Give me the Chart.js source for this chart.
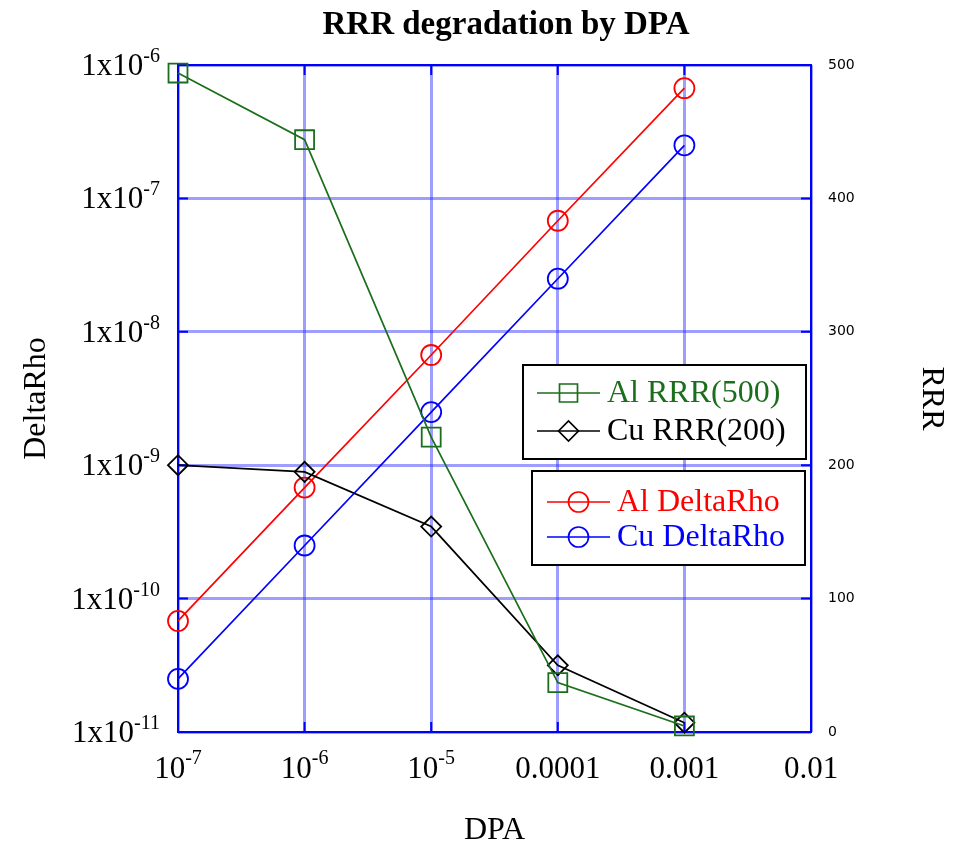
<!DOCTYPE html>
<html>
<head>
<meta charset="utf-8">
<script src="https://cdn.jsdelivr.net/npm/chart.js@4/dist/chart.umd.min.js"></script>
<style>
    html, body { margin: 0; padding: 0; background: #fff; }
</style>
</head>
<body>
<canvas id="graficoRRR" width="959" height="845"></canvas>
<script>
// datos
const dpa = [1e-7, 1e-6, 1e-5, 1e-4, 1e-3];
const alRRR = [494, 444, 221, 37, 4.5];
const cuRRR = [200, 195, 154, 50, 7];
const alDeltaRho = [6.8e-11, 6.8e-10, 6.7e-9, 6.8e-8, 6.7e-7];
const cuDeltaRho = [2.5e-11, 2.5e-10, 2.5e-9, 2.5e-8, 2.5e-7];

const xTicks = [1e-7, 1e-6, 1e-5, 1e-4, 1e-3, 1e-2];
const xTickLabels = [['10', '-7'], ['10', '-6'], ['10', '-5'], ['0.0001', ''], ['0.001', ''], ['0.01', '']];
const yTicks = [1e-11, 1e-10, 1e-9, 1e-8, 1e-7, 1e-6];
const yTickLabels = [['1x10', '-11'], ['1x10', '-10'], ['1x10', '-9'], ['1x10', '-8'], ['1x10', '-7'], ['1x10', '-6']];
const rrrTicks = [0, 100, 200, 300, 400, 500];

const TITULO = 'RRR degradation by DPA';
const VERDE = '#1b6e1b';
const SERIF = "'Liberation Serif', 'Times New Roman', serif";

function serie(xs, ys) {
    return xs.map((x, i) => ({x: x, y: ys[i]}));
}

function estilo(color, forma, radio) {
    return {
        borderColor: color,
        backgroundColor: 'rgba(0,0,0,0)',
        pointBorderColor: color,
        pointBackgroundColor: 'rgba(0,0,0,0)',
        pointStyle: forma,
        pointRadius: radio,
        pointHoverRadius: radio,
        pointBorderWidth: 1.8,
        borderWidth: 1.7,
        fill: false,
        tension: 0,
        clip: false
    };
}

// marcador para la leyenda
function marcador(ctx, forma, x, y) {
    ctx.beginPath();
    if (forma === 'circle') {
        ctx.arc(x, y, 10, 0, Math.PI * 2);
    } else if (forma === 'rect') {
        ctx.rect(x - 9, y - 9, 18, 18);
    } else {
        ctx.moveTo(x - 10, y);
        ctx.lineTo(x, y - 10);
        ctx.lineTo(x + 10, y);
        ctx.lineTo(x, y + 10);
        ctx.closePath();
    }
    ctx.stroke();
}

const leyendas = [
    {caja: [523, 365, 283, 94], filas: [0, 1], linea: [537, 600], texto: 607, ys: [393, 431]},
    {caja: [532, 471, 273, 94], filas: [2, 3], linea: [547, 610], texto: 617, ys: [502, 537]}
];

const decoracion = {
    id: 'decoracion',
    beforeDatasetsDraw(chart) {
        const {ctx, chartArea: a, scales} = chart;
        ctx.save();
        ctx.strokeStyle = '#0000ff';
        ctx.lineWidth = 2;
        ctx.beginPath();
        xTicks.forEach(v => {
            const px = scales.x.getPixelForValue(v);
            ctx.moveTo(px, a.bottom);
            ctx.lineTo(px, a.bottom - 10);
            ctx.moveTo(px, a.top);
            ctx.lineTo(px, a.top + 10);
        });
        yTicks.forEach(v => {
            const py = scales.y.getPixelForValue(v);
            ctx.moveTo(a.left, py);
            ctx.lineTo(a.left + 10, py);
        });
        rrrTicks.forEach(v => {
            const py = scales.y2.getPixelForValue(v);
            ctx.moveTo(a.right, py);
            ctx.lineTo(a.right - 10, py);
        });
        ctx.stroke();
        ctx.strokeRect(a.left, a.top, a.right - a.left, a.bottom - a.top);
        ctx.restore();
    },
    afterDraw(chart) {
        const {ctx, chartArea: a, scales} = chart;
        ctx.save();
        ctx.fillStyle = '#000';

        // titulo
        ctx.font = 'bold 33px ' + SERIF;
        ctx.textAlign = 'center';
        ctx.textBaseline = 'middle';
        ctx.fillText(TITULO, 506, 25);

        ctx.textBaseline = 'alphabetic';
        // etiquetas eje izquierdo con exponente
        yTicks.forEach((v, i) => {
            const py = scales.y.getPixelForValue(v);
            const [base, exp] = yTickLabels[i];
            ctx.font = '20px ' + SERIF;
            const we = ctx.measureText(exp).width;
            ctx.font = '31px ' + SERIF;
            const wb = ctx.measureText(base).width;
            const der = a.left - 18;
            ctx.textAlign = 'left';
            ctx.fillText(base, der - we - wb, py + 10);
            ctx.font = '20px ' + SERIF;
            ctx.fillText(exp, der - we, py - 3);
        });

        // etiquetas eje x
        xTicks.forEach((v, i) => {
            const px = scales.x.getPixelForValue(v);
            const [base, exp] = xTickLabels[i];
            ctx.font = '20px ' + SERIF;
            const we = exp ? ctx.measureText(exp).width : 0;
            ctx.font = '31px ' + SERIF;
            const wb = ctx.measureText(base).width;
            const x0 = px - (wb + we) / 2;
            ctx.textAlign = 'left';
            ctx.fillText(base, x0, a.bottom + 46);
            if (exp) {
                ctx.font = '20px ' + SERIF;
                ctx.fillText(exp, x0 + wb, a.bottom + 32);
            }
        });

        // leyendas
        const ds = chart.data.datasets;
        leyendas.forEach(l => {
            ctx.strokeStyle = '#000';
            ctx.lineWidth = 2;
            ctx.fillStyle = '#fff';
            ctx.fillRect(l.caja[0], l.caja[1], l.caja[2], l.caja[3]);
            ctx.strokeRect(l.caja[0], l.caja[1], l.caja[2], l.caja[3]);
            l.filas.forEach((idx, j) => {
                const d = ds[idx];
                const y = l.ys[j];
                ctx.strokeStyle = d.borderColor;
                ctx.lineWidth = 1.7;
                ctx.beginPath();
                ctx.moveTo(l.linea[0], y);
                ctx.lineTo(l.linea[1], y);
                ctx.stroke();
                marcador(ctx, d.pointStyle, (l.linea[0] + l.linea[1]) / 2, y);
                ctx.fillStyle = d.borderColor;
                ctx.font = '32px ' + SERIF;
                ctx.textAlign = 'left';
                ctx.textBaseline = 'middle';
                ctx.fillText(d.label, l.texto, y + 1);
            });
        });
        ctx.restore();
    }
};

const grid = {color: 'rgba(40,40,255,0.45)', lineWidth: 3, drawTicks: false};

new Chart(document.getElementById('graficoRRR').getContext('2d'), {
    type: 'line',
    data: {
        datasets: [
            Object.assign({label: 'Al RRR(500)', yAxisID: 'y2', data: serie(dpa, alRRR)}, estilo(VERDE, 'rect', 13.4)),
            Object.assign({label: 'Cu RRR(200)', yAxisID: 'y2', data: serie(dpa, cuRRR)}, estilo('#000000', 'rectRot', 10)),
            Object.assign({label: 'Al DeltaRho', yAxisID: 'y', data: serie(dpa, alDeltaRho)}, estilo('#ff0000', 'circle', 10)),
            Object.assign({label: 'Cu DeltaRho', yAxisID: 'y', data: serie(dpa, cuDeltaRho)}, estilo('#0000ff', 'circle', 10))
        ]
    },
    options: {
        responsive: false,
        animation: false,
        layout: {padding: {top: 65}},
        plugins: {
            legend: {display: false},
            tooltip: {enabled: false},
            title: {display: false}
        },
        scales: {
            x: {
                type: 'logarithmic',
                min: 1e-7,
                max: 1e-2,
                afterBuildTicks: s => { s.ticks = xTicks.map(v => ({value: v})); },
                afterFit: s => { s.height = 113; },
                ticks: {display: false},
                grid: grid,
                border: {display: false},
                title: {display: true, text: 'DPA', color: '#000', font: {family: SERIF, size: 32, lineHeight: 0.9}, padding: {top: 0, bottom: 0}}
            },
            y: {
                type: 'logarithmic',
                position: 'left',
                min: 1e-11,
                max: 1e-6,
                afterBuildTicks: s => { s.ticks = yTicks.map(v => ({value: v})); },
                afterFit: s => { s.width = 178; },
                ticks: {display: false},
                grid: grid,
                border: {display: false},
                title: {display: true, text: 'DeltaRho', color: '#000', font: {family: SERIF, size: 32, lineHeight: 1}, padding: {top: 21, bottom: 0}}
            },
            y2: {
                type: 'linear',
                position: 'right',
                min: 0,
                max: 500,
                afterBuildTicks: s => { s.ticks = rrrTicks.map(v => ({value: v})); },
                afterFit: s => { s.width = 148; },
                ticks: {color: '#000', padding: 17, font: {family: "'DejaVu Sans', sans-serif", size: 14}},
                grid: {display: false, drawTicks: false},
                border: {display: false},
                title: {display: true, text: 'RRR', color: '#000', font: {family: SERIF, size: 32, lineHeight: 1}, padding: {top: 12, bottom: 0}}
            }
        }
    },
    plugins: [decoracion]
});
</script>
</body>
</html>
